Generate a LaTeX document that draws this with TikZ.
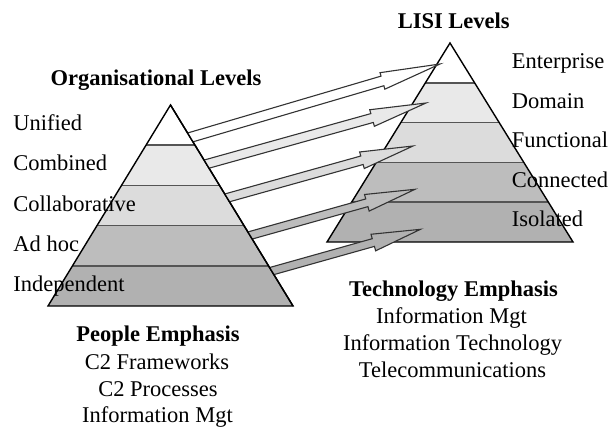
\documentclass[tikz,border=0pt]{standalone}
\usepackage{fontspec}
\setmainfont{Liberation Serif}
\usetikzlibrary{calc}
\definecolor{bandA}{HTML}{FFFFFF}
\definecolor{bandB}{HTML}{E9E9E9}
\definecolor{bandC}{HTML}{DCDCDC}
\definecolor{bandD}{HTML}{BDBDBD}
\definecolor{bandE}{HTML}{B1B1B1}
\definecolor{sepgray}{HTML}{555555}
\definecolor{arrowgray}{HTML}{333333}
\newcommand\headw{4.3pt}
\newcommand\blockarrow[5]{%
  \coordinate (ba-s) at ($(#1)!-6pt!(#2)$);
  \coordinate (ba-h) at ($(#2)!#5!(#1)$);
  \draw[arrowline, fill=#3]
    ($(ba-s)!#4!90:(#2)$) -- ($(ba-h)!#4!90:(#2)$) -- ($(ba-h)!\headw!90:(#2)$) -- (#2)
    -- ($(ba-h)!\headw!-90:(#2)$) -- ($(ba-h)!#4!-90:(#2)$) -- ($(ba-s)!#4!-90:(#2)$) -- cycle;
}
\begin{document}
\begin{tikzpicture}[x=0.5pt,y=-0.5pt,
  lbl/.style={inner sep=0pt, font=\fontsize{11.25}{13.5}\selectfont},
  ttl/.style={inner sep=0pt, font=\fontsize{11.25}{13.5}\selectfont\bfseries},
  outline/.style={draw=black, line width=0.7pt, line join=miter},
  sepline/.style={draw=sepgray, line width=0.8pt},
  arrowline/.style={draw=arrowgray, line width=0.55pt, line join=miter}]
\useasboundingbox (0,0) rectangle (610,428);

% ---------- left pyramid ----------
\coordinate (LA) at (170.5,105);
\coordinate (LBL) at (48,306);
\coordinate (LBR) at (293,306);
\begin{scope}
  \clip (LA) -- (LBR) -- (LBL) -- cycle;
  \fill[bandA] (0,100) rectangle (610,145.2);
  \fill[bandB] (0,145.2) rectangle (610,185.4);
  \fill[bandC] (0,185.4) rectangle (610,225.6);
  \fill[bandD] (0,225.6) rectangle (610,265.8);
  \fill[bandE] (0,265.8) rectangle (610,310);
  \draw[sepline] (0,145.2) -- (610,145.2);
  \draw[sepline] (0,185.4) -- (610,185.4);
  \draw[sepline] (0,225.6) -- (610,225.6);
  \draw[sepline] (0,265.8) -- (610,265.8);
\end{scope}
\draw[outline] (LA) -- (LBR) -- (LBL) -- cycle;

% ---------- right pyramid ----------
\coordinate (RA) at (450,43);
\coordinate (RBL) at (327,242);
\coordinate (RBR) at (573,242);
\begin{scope}
  \clip (RA) -- (RBR) -- (RBL) -- cycle;
  \fill[bandA] (300,40) rectangle (610,82.8);
  \fill[bandB] (300,82.8) rectangle (610,122.6);
  \fill[bandC] (300,122.6) rectangle (610,162.4);
  \fill[bandD] (300,162.4) rectangle (610,202.2);
  \fill[bandE] (300,202.2) rectangle (610,245);
  \draw[sepline] (300,82.8) -- (610,82.8);
  \draw[sepline] (300,122.6) -- (610,122.6);
  \draw[sepline] (300,162.4) -- (610,162.4);
  \draw[sepline] (300,202.2) -- (610,202.2);
\end{scope}
\draw[outline] (RA) -- (RBR) -- (RBL) -- cycle;

% ---------- arrows ----------
\coordinate (t1) at (191.7,137);   \coordinate (h1) at (440,64);
\coordinate (t2) at (207,164);     \coordinate (h2) at (426,103);
\coordinate (t3) at (226.7,198);   \coordinate (h3) at (413,146);
\coordinate (t4) at (250,235.5);   \coordinate (h4) at (415,189.3);
\coordinate (t5) at (272,271);     \coordinate (h5) at (420.5,229.3);
\begin{scope}
  \clip (106.5,0) -- (367.4,428) -- (610,428) -- (610,0) -- cycle;
  \blockarrow{t1}{h1}{bandA}{2.5pt}{30pt}
  \blockarrow{t2}{h2}{bandB}{2.3pt}{28pt}
  \blockarrow{t3}{h3}{bandC}{2.2pt}{26.5pt}
  \blockarrow{t4}{h4}{bandD}{2.0pt}{25pt}
  \blockarrow{t5}{h5}{bandE}{2.0pt}{24.5pt}
\end{scope}
\draw[outline] (LA) -- (LBR);

% ---------- texts ----------
\node[ttl, anchor=base] (orgtitle) at (156,85) {Organisational Levels};
\node[lbl, anchor=base west] (unified) at (13,130) {Unified};
\node[lbl, anchor=base west] (combined) at (13,170) {Combined};
\node[lbl, anchor=base west] (collab) at (13,211) {Collaborative};
\node[lbl, anchor=base west] (adhoc) at (13,251) {Ad hoc};
\node[lbl, anchor=base west] (indep) at (13,291) {Independent};

\node[ttl, anchor=base] (lisititle) at (453.7,28.3) {LISI Levels};
\node[lbl, anchor=base west] (enterprise) at (511.5,68.3) {Enterprise};
\node[lbl, anchor=base west] (domain) at (511.5,108.3) {Domain};
\node[lbl, anchor=base west] (functional) at (511.5,147.7) {Functional};
\node[lbl, anchor=base west] (connected) at (511.5,187.3) {Connected};
\node[lbl, anchor=base west] (isolated) at (511.5,226.7) {Isolated};

\node[ttl, anchor=base] (people) at (158,341.7) {People Emphasis};
\node[lbl, anchor=base] (c2fw) at (157,369) {C2 Frameworks};
\node[lbl, anchor=base] (c2pr) at (158,396.5) {C2 Processes};
\node[lbl, anchor=base] (infomgtL) at (157.5,422) {Information Mgt};

\node[ttl, anchor=base] (tech) at (453.5,296) {Technology Emphasis};
\node[lbl, anchor=base] (infomgtR) at (451.5,323) {Information Mgt};
\node[lbl, anchor=base] (infotech) at (452.5,350.5) {Information Technology};
\node[lbl, anchor=base] (telecom) at (452.5,377.5) {Telecommunications};
\end{tikzpicture}
\end{document}
